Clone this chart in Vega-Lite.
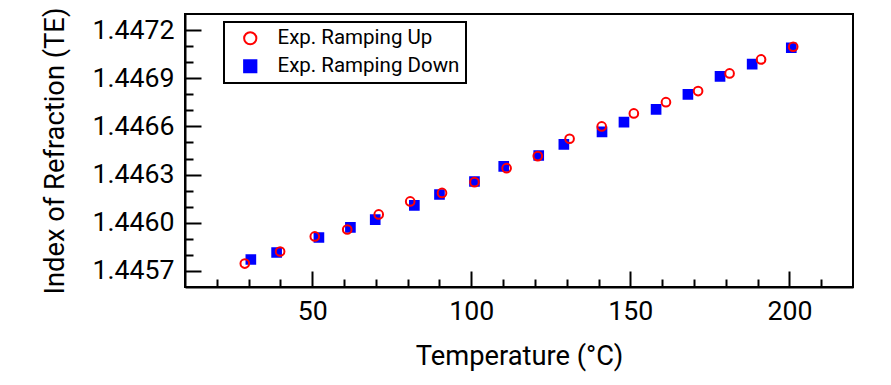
{
  "$schema": "https://vega.github.io/schema/vega-lite/v6.json",
  "width": 668,
  "height": 273,
  "autosize": {"type": "none"},
  "padding": {"left": 185, "top": 14, "right": 38, "bottom": 98},
  "background": "white",
  "datasets": {
    "pts": [
      {"T": 30.7, "n": 1.445771, "series": "Exp. Ramping Down"},
      {"T": 38.8, "n": 1.445815, "series": "Exp. Ramping Down"},
      {"T": 52.1, "n": 1.445908, "series": "Exp. Ramping Down"},
      {"T": 62.0, "n": 1.445971, "series": "Exp. Ramping Down"},
      {"T": 69.8, "n": 1.446020, "series": "Exp. Ramping Down"},
      {"T": 82.1, "n": 1.446108, "series": "Exp. Ramping Down"},
      {"T": 90.0, "n": 1.446176, "series": "Exp. Ramping Down"},
      {"T": 101.0, "n": 1.446257, "series": "Exp. Ramping Down"},
      {"T": 110.2, "n": 1.446351, "series": "Exp. Ramping Down"},
      {"T": 121.2, "n": 1.446419, "series": "Exp. Ramping Down"},
      {"T": 129.1, "n": 1.446488, "series": "Exp. Ramping Down"},
      {"T": 141.1, "n": 1.446566, "series": "Exp. Ramping Down"},
      {"T": 148.0, "n": 1.446627, "series": "Exp. Ramping Down"},
      {"T": 158.1, "n": 1.446706, "series": "Exp. Ramping Down"},
      {"T": 168.1, "n": 1.446799, "series": "Exp. Ramping Down"},
      {"T": 178.2, "n": 1.446912, "series": "Exp. Ramping Down"},
      {"T": 188.3, "n": 1.446988, "series": "Exp. Ramping Down"},
      {"T": 200.6, "n": 1.447090, "series": "Exp. Ramping Down"},
      {"T": 28.8, "n": 1.445746, "series": "Exp. Ramping Up"},
      {"T": 39.9, "n": 1.445821, "series": "Exp. Ramping Up"},
      {"T": 50.8, "n": 1.445915, "series": "Exp. Ramping Up"},
      {"T": 61.0, "n": 1.445958, "series": "Exp. Ramping Up"},
      {"T": 70.9, "n": 1.446052, "series": "Exp. Ramping Up"},
      {"T": 80.8, "n": 1.446133, "series": "Exp. Ramping Up"},
      {"T": 90.8, "n": 1.446186, "series": "Exp. Ramping Up"},
      {"T": 101.0, "n": 1.446253, "series": "Exp. Ramping Up"},
      {"T": 111.1, "n": 1.446340, "series": "Exp. Ramping Up"},
      {"T": 120.9, "n": 1.446415, "series": "Exp. Ramping Up"},
      {"T": 130.9, "n": 1.446523, "series": "Exp. Ramping Up"},
      {"T": 141.0, "n": 1.446600, "series": "Exp. Ramping Up"},
      {"T": 151.1, "n": 1.446681, "series": "Exp. Ramping Up"},
      {"T": 161.2, "n": 1.446751, "series": "Exp. Ramping Up"},
      {"T": 171.3, "n": 1.446820, "series": "Exp. Ramping Up"},
      {"T": 181.2, "n": 1.446930, "series": "Exp. Ramping Up"},
      {"T": 191.1, "n": 1.447017, "series": "Exp. Ramping Up"},
      {"T": 201.2, "n": 1.447096, "series": "Exp. Ramping Up"}
    ]
  },
  "data": {"name": "pts"},
  "layer": [
    {
      "transform": [{"filter": "datum.series === 'Exp. Ramping Down'"}],
      "mark": {"type": "point", "size": 75, "strokeWidth": 2, "opacity": 1},
      "encoding": {
        "x": {
          "field": "T", "type": "quantitative",
          "scale": {"domain": [10, 220], "nice": false, "zero": false},
          "axis": {
            "values": [50, 100, 150, 200], "format": "d", "orient": "bottom",
            "tickSize": -16, "labelPadding": 27, "grid": false,
            "title": "Temperature (°C)", "titleX": 334, "titleY": 77, "titleBaseline": "alphabetic"
          }
        },
        "y": {
          "field": "n", "type": "quantitative",
          "scale": {"domain": [1.4456, 1.4473], "nice": false, "zero": false},
          "axis": {
            "values": [1.4457, 1.446, 1.4463, 1.4466, 1.4469, 1.4472], "format": ".4f", "orient": "left",
            "tickSize": -16, "labelPadding": 27, "grid": false,
            "title": "Index of Refraction (TE)", "titleX": -122, "titleY": 136.5, "titleBaseline": "alphabetic", "titleAngle": -90
          }
        },
        "shape": {"field": "series", "type": "nominal", "scale": {"domain": ["Exp. Ramping Up", "Exp. Ramping Down"], "range": ["circle", "square"]}, "title": null},
        "stroke": {"field": "series", "type": "nominal", "scale": {"domain": ["Exp. Ramping Up", "Exp. Ramping Down"], "range": ["#ff0000", "#0000ff"]}, "title": null},
        "fill": {"field": "series", "type": "nominal", "scale": {"domain": ["Exp. Ramping Up", "Exp. Ramping Down"], "range": ["transparent", "#0000ff"]}, "title": null}
      }
    },
    {
      "transform": [{"filter": "datum.series === 'Exp. Ramping Up'"}],
      "mark": {"type": "point", "size": 75, "strokeWidth": 2, "opacity": 1},
      "encoding": {
        "x": {
          "field": "T", "type": "quantitative",
          "axis": {
            "values": [20, 30, 40, 60, 70, 80, 90, 110, 120, 130, 140, 160, 170, 180, 190, 210],
            "orient": "bottom", "tickSize": -8, "labels": false, "domain": false, "grid": false, "title": null
          }
        },
        "y": {
          "field": "n", "type": "quantitative",
          "axis": {
            "values": [1.4458, 1.4459, 1.4461, 1.4462, 1.4464, 1.4465, 1.4467, 1.4468, 1.447, 1.4471],
            "orient": "left", "tickSize": -8, "labels": false, "domain": false, "grid": false, "title": null
          }
        },
        "shape": {"field": "series", "type": "nominal", "title": null},
        "stroke": {"field": "series", "type": "nominal", "title": null},
        "fill": {"field": "series", "type": "nominal", "title": null}
      }
    }
  ],
  "resolve": {"axis": {"x": "independent", "y": "independent"}},
  "config": {
    "font": "Roboto",
    "view": {"stroke": "black", "strokeWidth": 2},
    "axis": {
      "domainColor": "black", "domainWidth": 2, "tickColor": "black", "tickWidth": 2,
      "labelFont": "Roboto", "labelFontSize": 26.7, "labelColor": "black",
      "titleFont": "Roboto", "titleFontSize": 27.3, "titleFontWeight": "normal", "titleColor": "black"
    },
    "legend": {
      "orient": "none", "legendX": 39, "legendY": 8,
      "strokeColor": "black", "strokeWidth": 2, "padding": 6,
      "labelFont": "Roboto", "labelFontSize": 20.5, "labelColor": "black", "labelLimit": 400,
      "symbolSize": 150, "symbolStrokeWidth": 2, "rowPadding": 7, "labelOffset": 17, "symbolOffset": 10
    }
  }
}
